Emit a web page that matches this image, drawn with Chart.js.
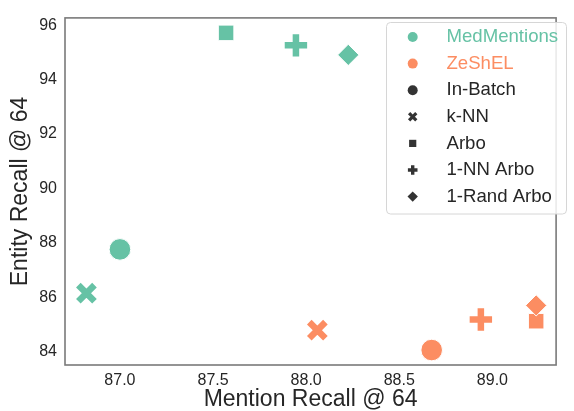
<!DOCTYPE html>
<html><head><meta charset="utf-8">
<script src="https://cdn.jsdelivr.net/npm/chart.js@4/dist/chart.umd.min.js"></script>
<style>html,body{margin:0;padding:0;background:#fff}#wrap{width:574px;height:411px}</style>
</head><body><div id="wrap"><canvas id="c" width="574" height="411"></canvas></div>
<script>
// ---- data ----
const methods = ['In-Batch', 'k-NN', 'Arbo', '1-NN Arbo', '1-Rand Arbo'];
const corpora = ['MedMentions', 'ZeShEL'];
const medMentionsMentionRecall = [87.00, 86.82, 87.57, 87.945, 88.226];
const medMentionsEntityRecall  = [87.76, 86.15, 95.72, 95.26, 94.91];
const zeshelMentionRecall = [88.674, 88.06, 89.235, 88.938, 89.235];
const zeshelEntityRecall  = [84.06, 84.79, 85.12, 85.18, 85.70];
const xTicks = [87.0, 87.5, 88.0, 88.5, 89.0];
const xTickLabels = ['87.0', '87.5', '88.0', '88.5', '89.0'];
const yTicks = [84, 86, 88, 90, 92, 94, 96];
const yTickLabels = ['84', '86', '88', '90', '92', '94', '96'];

// ---- styles ----
const FONT = "'Liberation Sans', Arial, 'DejaVu Sans', sans-serif";
const corpusColors = ['#66c2a5', '#fc8d62'];
const textColor = '#262626';
const markerStyle = ['circle', 'crossRot', 'rect', 'cross', 'rectRot'];
const markerRadius = [10.8, 11.4, 11, 11.2, 10.6];
const markerBorder = [1, 6.5, 1, 6.5, 1];

function makeDataset(label, xs, ys, color) {
  return {
    label: label,
    data: xs.map((x, i) => ({x: x, y: ys[i]})),
    backgroundColor: color,
    borderColor: markerStyle.map(s => (s === 'cross' || s === 'crossRot') ? color : '#ffffff'),
    pointStyle: markerStyle,
    pointRadius: markerRadius,
    pointBorderWidth: markerBorder,
    showLine: false
  };
}

const framePlugin = {
  id: 'frame',
  beforeDatasetsDraw(chart) {
    const {ctx, chartArea: a} = chart;
    ctx.save();
    ctx.strokeStyle = '#7a7a7a';
    ctx.lineWidth = 1.6;
    ctx.strokeRect(a.left, a.top, a.right - a.left, a.bottom - a.top);
    ctx.restore();
  }
};

function drawLegendMarker(ctx, style, x, y) {
  ctx.beginPath();
  if (style === 'circle') {
    ctx.arc(x, y, 5, 0, Math.PI * 2); ctx.fill();
  } else if (style === 'rect') {
    ctx.fillRect(x - 3.6, y - 3.6, 7.2, 7.2);
  } else if (style === 'rectRot') {
    ctx.moveTo(x, y - 5.2); ctx.lineTo(x + 5.2, y); ctx.lineTo(x, y + 5.2); ctx.lineTo(x - 5.2, y); ctx.closePath(); ctx.fill();
  } else if (style === 'cross') {
    ctx.lineWidth = 3.4;
    ctx.moveTo(x - 4.8, y); ctx.lineTo(x + 4.8, y); ctx.moveTo(x, y - 4.8); ctx.lineTo(x, y + 4.8); ctx.stroke();
  } else if (style === 'crossRot') {
    ctx.lineWidth = 3.2;
    const d = 3.6;
    ctx.moveTo(x - d, y - d); ctx.lineTo(x + d, y + d); ctx.moveTo(x + d, y - d); ctx.lineTo(x - d, y + d); ctx.stroke();
  }
}

const legendPlugin = {
  id: 'customLegend',
  afterDraw(chart) {
    const ctx = chart.ctx;
    const bx = 386.5, by = 22.5, bw = 180, bh = 191.5, r = 4;
    ctx.save();
    ctx.beginPath();
    ctx.moveTo(bx + r, by); ctx.lineTo(bx + bw - r, by); ctx.arcTo(bx + bw, by, bx + bw, by + r, r);
    ctx.lineTo(bx + bw, by + bh - r); ctx.arcTo(bx + bw, by + bh, bx + bw - r, by + bh, r);
    ctx.lineTo(bx + r, by + bh); ctx.arcTo(bx, by + bh, bx, by + bh - r, r);
    ctx.lineTo(bx, by + r); ctx.arcTo(bx, by, bx + r, by, r); ctx.closePath();
    ctx.fillStyle = 'rgba(255,255,255,0.85)';
    ctx.fill();
    ctx.strokeStyle = '#d6d6d6';
    ctx.lineWidth = 1;
    ctx.stroke();

    const items = [];
    corpora.forEach((c, i) => items.push({text: c, style: 'circle', color: corpusColors[i], textColor: corpusColors[i]}));
    methods.forEach((m, i) => items.push({text: m, style: markerStyle[i], color: '#333333', textColor: textColor}));
    const mx = 412.7, tx = 446.5, y0 = 37, dy = 26.6;
    ctx.font = '18.6px ' + FONT;
    ctx.textBaseline = 'middle';
    ctx.textAlign = 'left';
    items.forEach((it, i) => {
      const y = y0 + i * dy;
      ctx.fillStyle = it.color; ctx.strokeStyle = it.color;
      drawLegendMarker(ctx, it.style, mx, y);
      ctx.fillStyle = it.textColor;
      ctx.fillText(it.text, tx, y);
    });
    ctx.restore();
  }
};

new Chart(document.getElementById('c'), {
  type: 'scatter',
  data: {
    datasets: [
      makeDataset(corpora[0], medMentionsMentionRecall, medMentionsEntityRecall, corpusColors[0]),
      makeDataset(corpora[1], zeshelMentionRecall, zeshelEntityRecall, corpusColors[1])
    ]
  },
  options: {
    responsive: false,
    devicePixelRatio: 1,
    animation: false,
    events: [],
    layout: {padding: {top: 13, right: 1, left: 0, bottom: 0}},
    plugins: {legend: {display: false}, tooltip: {enabled: false}},
    scales: {
      x: {
        type: 'linear', min: 86.705, max: 89.342,
        afterBuildTicks: s => { s.ticks = xTicks.map(v => ({value: v})); },
        afterFit: s => { s.height = 46; },
        grid: {display: false, drawTicks: false},
        border: {display: false},
        ticks: {padding: 6, color: textColor, font: {family: FONT, size: 16}, callback: (v, i) => xTickLabels[i], maxRotation: 0},
        title: {display: true, text: 'Mention Recall @ 64', color: textColor, font: {family: FONT, size: 23, lineHeight: 1}, padding: {top: 0, bottom: 0}}
      },
      y: {
        type: 'linear', min: 83.51, max: 96.27,
        afterBuildTicks: s => { s.ticks = yTicks.map(v => ({value: v})); },
        afterFit: s => { s.width = 65; },
        grid: {display: false, drawTicks: false},
        border: {display: false},
        ticks: {padding: 8, color: textColor, font: {family: FONT, size: 16}, callback: (v, i) => yTickLabels[i]},
        title: {display: true, text: 'Entity Recall @ 64', color: textColor, font: {family: FONT, size: 23, lineHeight: 1}, padding: {top: 9, bottom: 0}}
      }
    }
  },
  plugins: [framePlugin, legendPlugin]
});
</script>
</body></html>
